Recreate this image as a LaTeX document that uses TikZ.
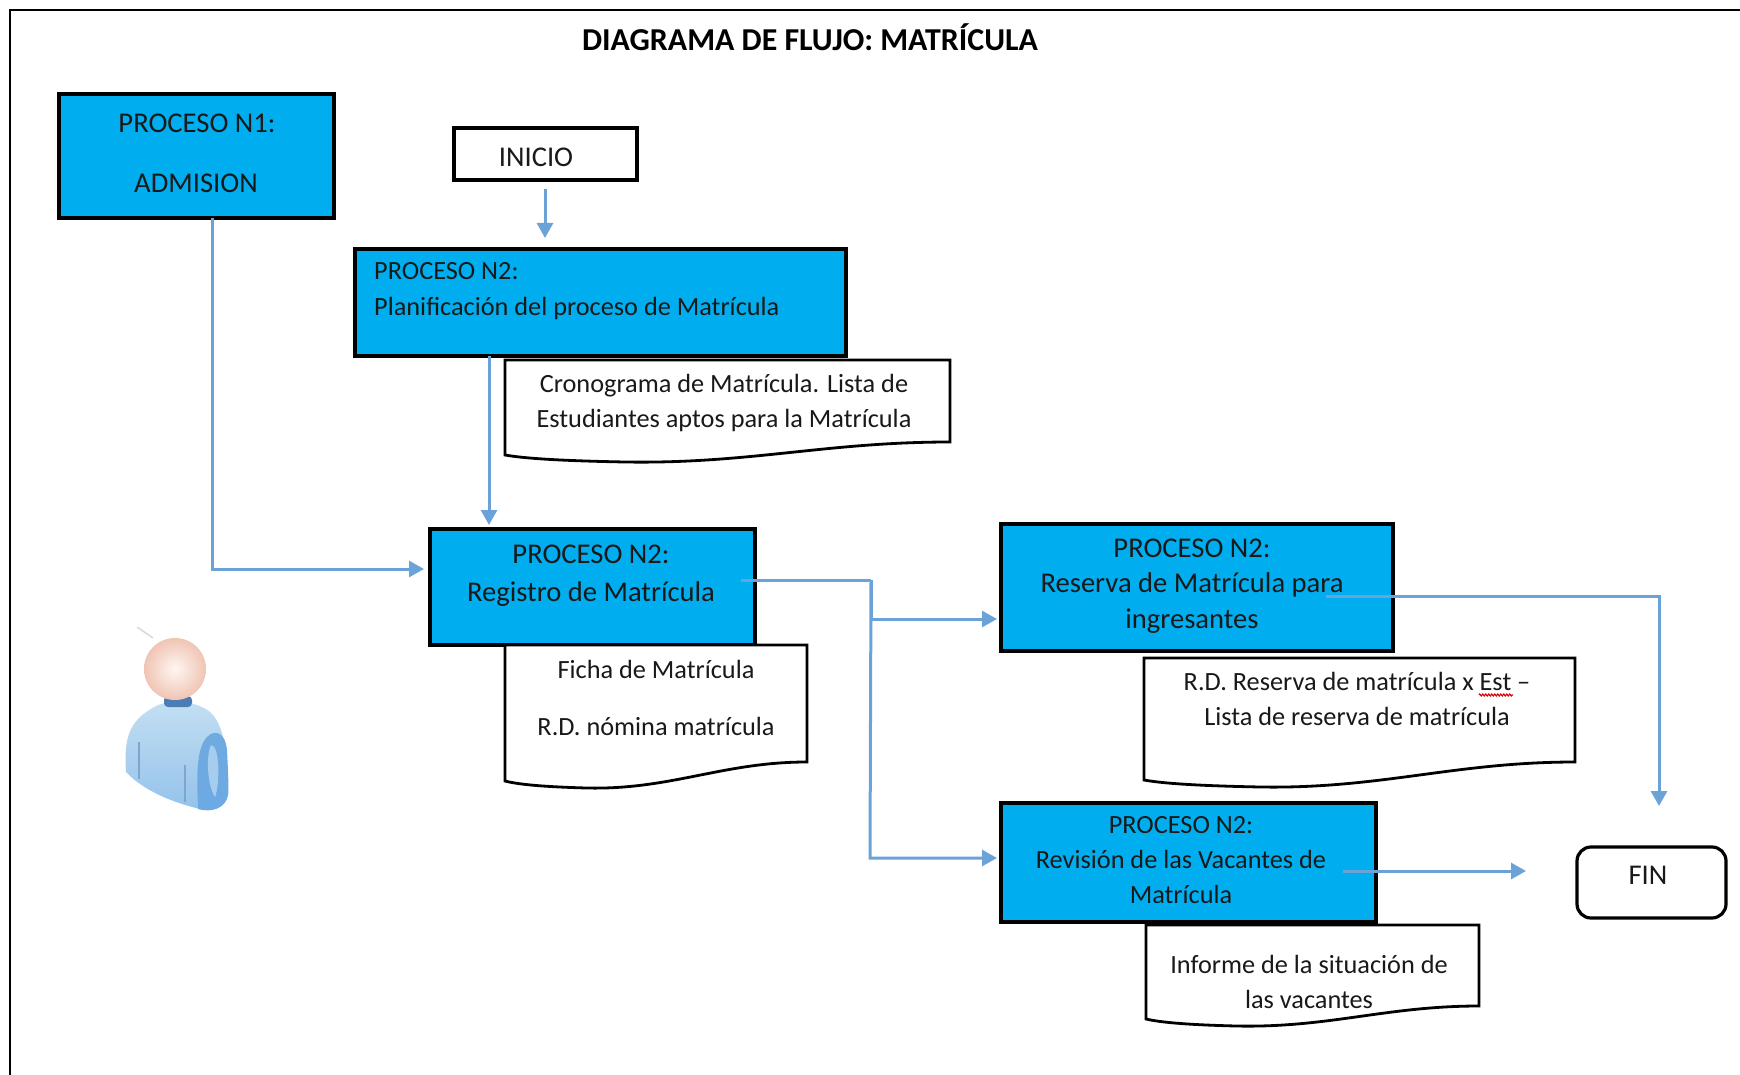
\documentclass[tikz,border=0pt]{standalone}
\usepackage{fontspec}
\setmainfont{Carlito}
\usetikzlibrary{arrows.meta,positioning,decorations.pathmorphing}
\definecolor{boxblue}{HTML}{00AEEF}
\definecolor{linkblue}{HTML}{6BA3D8}
\definecolor{bodytop}{HTML}{C4DFF2}
\definecolor{bodybot}{HTML}{92C2EA}
\definecolor{sleevetop}{HTML}{6FAAE0}
\definecolor{sleevebot}{HTML}{6DA9E2}
\definecolor{sleevein}{HTML}{A6CDEE}
\definecolor{neckcol}{HTML}{4A7DB5}
\definecolor{skinout}{HTML}{F0C4B4}
\definecolor{skinin}{HTML}{FFF6F2}
\tikzset{
  x=1pt,y=-1pt,
  procbox/.style={draw=black,line width=3.2pt,fill=boxblue},
  startbox/.style={draw=black,line width=3.2pt,fill=white},
  docline/.style={draw=black,line width=2.8pt,fill=white,line join=miter},
  link/.style={draw=linkblue,line width=3pt,-{Triangle[length=15pt,width=16pt]}},
  linkplain/.style={draw=linkblue,line width=3pt},
  txt/.style={inner sep=0pt,text=black!90,align=center,font=\fontsize{26.3}{35}\selectfont},
  txtbig/.style={txt,font=\fontsize{28.6}{38}\selectfont},
  txtres/.style={txt,font=\fontsize{28.6}{35.5}\selectfont},
}
% box: name, x1, y1, x2, y2, style
\newcommand{\blockbox}[6]{\path[#6] (#2,#3) rectangle (#4,#5);\coordinate (#1) at (#2,#3);}
% document shape with wavy bottom: x1,ytop,x2,yright,yleft
\newcommand{\docshape}[6]{%
  \path[docline] (#2,#3) -- (#4,#3) -- (#4,#5)
    .. controls ({#2+0.72*(#4-#2)},#5) and ({#2+0.55*(#4-#2)},{#6+9}) .. ({#2+0.27*(#4-#2)},{#6+7})
    .. controls ({#2+0.15*(#4-#2)},{#6+6}) and ({#2+0.05*(#4-#2)},{#6+4}) .. (#2,#6) -- cycle;
  \coordinate (#1) at (#2,#3);}
\begin{document}
\begin{tikzpicture}
\useasboundingbox (0,0) rectangle (1740,1075);
\fill[white] (0,0) rectangle (1740,1075);
% outer frame
\draw[black,line width=1.8pt] (10,1075) -- (10,10) -- (1740,10);
\node[inner sep=0pt,font=\fontsize{31.9}{36}\selectfont\bfseries] (title) at (810,37) {DIAGRAMA DE FLUJO: MATRÍCULA};

% process boxes
\blockbox{pa}{59}{94}{334}{218}{procbox}
\blockbox{ini}{454}{128}{637}{180}{startbox}
\blockbox{pb}{355}{249}{846}{356}{procbox}
\blockbox{pc}{430}{529}{755}{645}{procbox}
\blockbox{pd}{1001}{524}{1393}{651}{procbox}
\blockbox{pe}{1001}{803}{1376}{922}{procbox}
\path[startbox,rounded corners=14pt] (1577,847) rectangle (1726,918);
\coordinate (fin) at (1577,847);

% documents
\docshape{da}{505}{360}{950}{442}{455}
\docshape{db}{505}{645}{807}{762}{781}
\docshape{dc}{1144}{658}{1575}{762}{780}
\docshape{dd}{1146}{925}{1479}{1006}{1019}

% labels
\node[txtbig] (ta) at (197,123) {PROCESO N1:};
\node[txtbig] (tb) at (196,183) {ADMISION};
\node[txtbig] (tc) at (536,157) {INICIO};
\node[txt,anchor=west] (td) at (374,271) {PROCESO N2:};
\node[txt,anchor=west] (te) at (374,308) {Planificación del proceso de Matrícula};
\node[txt] (tf) at (724,403) {Cronograma de Matrícula. Lista de\\Estudiantes aptos para la Matrícula};
\node[txtbig] (tg) at (591,576) {PROCESO N2:\\[0pt]Registro de Matrícula};
\node[txt] (th) at (656,669) {Ficha de Matrícula};
\node[txt] (ti) at (656,726) {R.D. nómina matrícula};
\node[txtres] (tj) at (1192,586) {PROCESO N2:\\Reserva de Matrícula para\\ingresantes};
\node[txt] (tk) at (1357,699) {R.D. Reserva de matrícula x Est –\\Lista de reserva de matrícula};
\node[txt] (tl) at (1181,860) {PROCESO N2:\\Revisión de las Vacantes de\\Matrícula};
\node[txt] (tm) at (1309,982) {Informe de la situación de\\las vacantes};
\node[txtbig] (tn) at (1648,875) {FIN};
% spell-check underline
\draw[red!85!black,line width=1.1pt,decorate,decoration={zigzag,segment length=3pt,amplitude=1pt}] (1479,695) -- (1513,695);

% connector end points
\coordinate (c1) at (545,189);
\coordinate (c2) at (545,238);
\coordinate (c3) at (489,356);
\coordinate (c4) at (489,525);
\coordinate (c5) at (212,218);
\coordinate (c6) at (212,569);
\coordinate (c7) at (424,569);
\coordinate (c8) at (741,580);
\coordinate (c9) at (871,580);
\coordinate (c10) at (871,619);
\coordinate (c11) at (997,619);
\coordinate (c12) at (870,858);
\coordinate (c13) at (997,858);
\coordinate (c14) at (1326,596);
\coordinate (c15) at (1659,596);
\coordinate (c16) at (1659,806);
\coordinate (c17) at (1343,871);
\coordinate (c18) at (1526,871);

\draw[link] (c1) -- (c2);
\draw[link] (c3) -- (c4);
\draw[link] (c5) -- (c6) -- (c7);
\draw[linkplain] (c8) -- (c9);
\draw[link] (c9) -- (c10) -- (c11);
\draw[link] (c9) -- (c12) -- (c13);
\draw[link] (c14) -- (c15) -- (c16);
\draw[link] (c17) -- (c18);

% person figure
\begin{scope}
  \draw[gray!30,line width=1.5pt] (137,627) -- (153,638);
  % body
  \path[top color=bodytop,bottom color=bodybot,draw=none]
    (126,772) .. controls (124,738) and (128,720) .. (158,705)
    .. controls (175,699) and (198,702) .. (210,712)
    .. controls (224,725) and (227,750) .. (228,790)
    .. controls (229,805) and (215,813) .. (200,809)
    .. controls (175,803) and (145,792) .. (126,772) -- cycle;
  % sleeve
  \path[top color=sleevetop,bottom color=sleevebot,draw=none]
    (198,809) .. controls (197,780) and (196,755) .. (204,741)
    .. controls (212,728) and (225,730) .. (227,750)
    .. controls (228,770) and (229,790) .. (228,795)
    .. controls (226,808) and (212,813) .. (198,809) -- cycle;
  \path[fill=sleevein] (211,745) .. controls (220,745) and (220,785) .. (215,797) .. controls (207,785) and (206,755) .. (211,745) -- cycle;
  \draw[neckcol!70,line width=1.2pt] (139,742) -- (139,779);
  \draw[neckcol!70,line width=1.2pt] (185,765) -- (185,802);
  % neck
  \path[fill=neckcol,rounded corners=4pt] (164,696) rectangle (192,707);
  % head
  \shade[inner color=skinin,outer color=skinout] (175,669) circle (31);
\end{scope}
\end{tikzpicture}
\end{document}
